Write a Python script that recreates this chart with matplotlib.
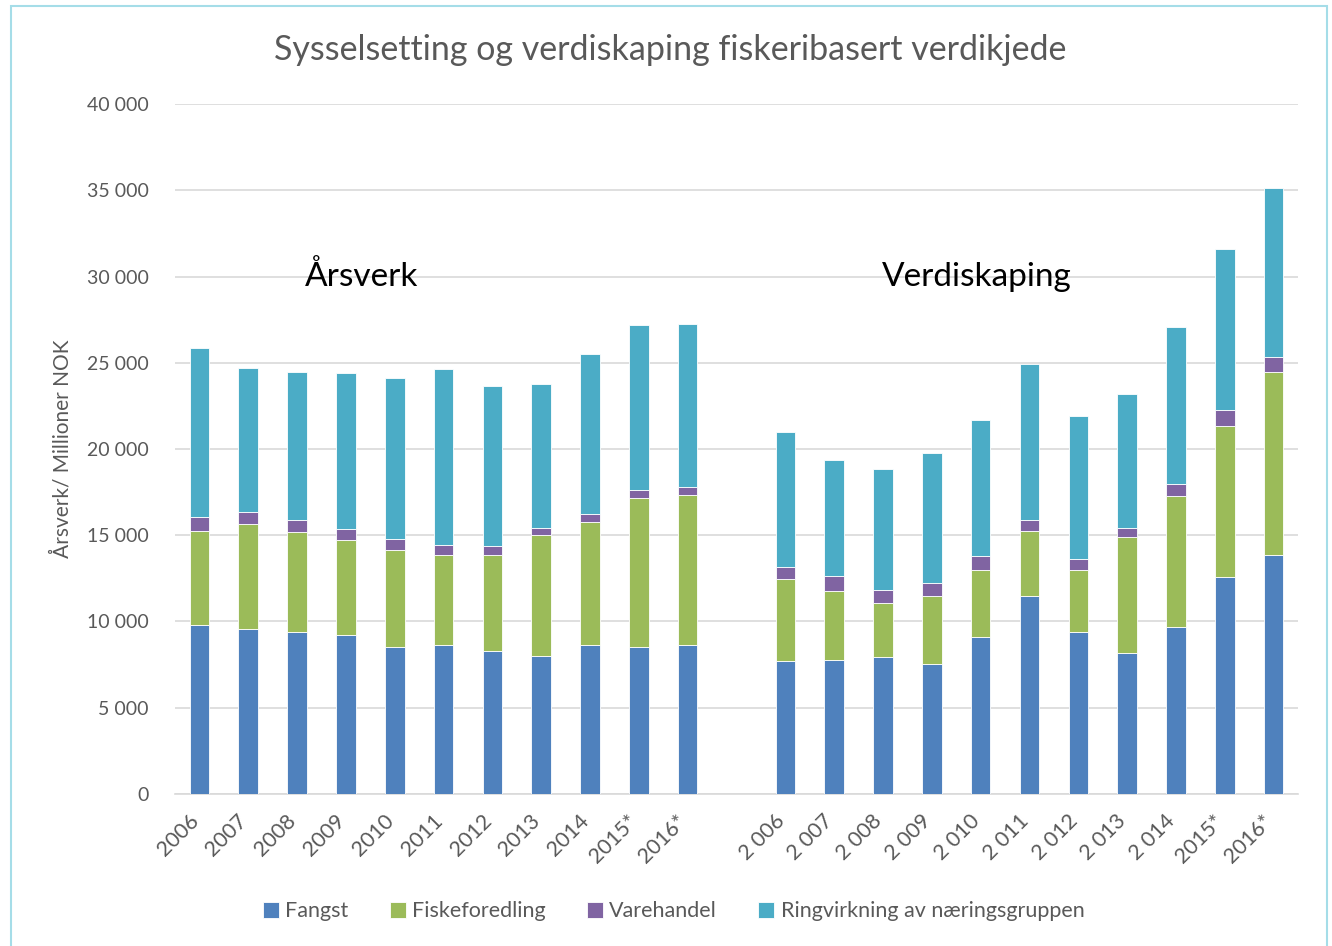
import numpy as np
import matplotlib.pyplot as plt
import matplotlib.transforms as mtransforms
from matplotlib.patches import Rectangle

plt.rcParams['font.family'] = ['Lato', 'DejaVu Sans']

# data
labels_aarsverk = ['2006', '2007', '2008', '2009', '2010', '2011', '2012', '2013', '2014', '2015*', '2016*']
labels_verdi = ['2 006', '2 007', '2 008', '2 009', '2 010', '2 011', '2 012', '2 013', '2 014', '2015*', '2016*']

fangst_a = [9770, 9540, 9420, 9240, 8550, 8660, 8310, 8020, 8660, 8550, 8660]
fiskeforedling_a = [5500, 6140, 5790, 5510, 5600, 5220, 5550, 7000, 7100, 8620, 8690]
varehandel_a = [760, 660, 660, 600, 620, 540, 500, 390, 460, 470, 440]
ringvirkning_a = [9800, 8370, 8590, 9050, 9360, 10210, 9320, 8350, 9270, 9530, 9480]

fangst_v = [7710, 7770, 7940, 7540, 9130, 11450, 9420, 8170, 9710, 12590, 13850]
fiskeforedling_v = [4730, 3970, 3140, 3930, 3830, 3790, 3560, 6750, 7570, 8770, 10600]
varehandel_v = [710, 870, 720, 790, 850, 660, 620, 480, 710, 910, 890]
ringvirkning_v = [7820, 6760, 7040, 7510, 7900, 9020, 8340, 7800, 9100, 9340, 9780]

series_names = ['Fangst', 'Fiskeforedling', 'Varehandel', 'Ringvirkning av næringsgruppen']
colors = ['#4F81BD', '#9BBB59', '#8064A2', '#4BACC6']

# one empty slot between the two groups
labels = labels_aarsverk + [''] + labels_verdi
series = [
    fangst_a + [0] + fangst_v,
    fiskeforedling_a + [0] + fiskeforedling_v,
    varehandel_a + [0] + varehandel_v,
    ringvirkning_a + [0] + ringvirkning_v,
]

fig = plt.figure(figsize=(13.32, 9.46), dpi=100)
ax = fig.add_axes([0.1314, 0.1607, 0.8431, 0.7293])

x = np.arange(len(labels))
bottom = np.zeros(len(labels))
for vals, name, c in zip(series, series_names, colors):
    vals = np.array(vals, dtype=float)
    ax.bar(x, vals, 0.4, bottom=bottom, color=c, label=name,
           edgecolor='white', linewidth=0.6, zorder=3)
    bottom += vals

ax.set_xlim(-0.5, len(labels) - 0.5)
ax.set_ylim(0, 40000)
yt = np.arange(0, 40001, 5000)
ax.set_yticks(yt)
ax.set_yticklabels(['{:,}'.format(v).replace(',', ' ') for v in yt], fontsize=14, color='#595959')
ax.grid(axis='y', color='#D9D9D9', linewidth=1.2, zorder=0)
ax.tick_params(axis='y', length=0, pad=19)
ax.tick_params(axis='x', length=0, pad=12)
ax.set_xticks(x)
ax.set_xticklabels(labels, rotation=45, ha='right', rotation_mode='anchor',
                   fontsize=15.5, color='#595959')
shift = mtransforms.ScaledTranslation(-8 / 72, 0, fig.dpi_scale_trans)
for lbl in ax.get_xticklabels():
    lbl.set_transform(lbl.get_transform() + shift)
for s in ['top', 'right', 'left']:
    ax.spines[s].set_visible(False)
ax.spines['bottom'].set_color('#D9D9D9')
ax.spines['bottom'].set_linewidth(1.2)

ax.set_ylabel('Årsverk/ Millioner NOK', fontsize=15, color='#595959', labelpad=10)

fig.text(0.503, 0.947, 'Sysselsetting og verdiskaping fiskeribasert verdikjede',
         ha='center', va='center', fontsize=24.5, color='#595959')
ax.text(3.33, 30000, 'Årsverk', ha='center', va='center', fontsize=24, color='black')
ax.text(15.93, 30000, 'Verdiskaping', ha='center', va='center', fontsize=24, color='black')

ax.legend(loc='center', bbox_to_anchor=(0.444, -0.17), ncol=4, frameon=False,
          fontsize=15.5, labelcolor='#595959', handlelength=0.75, handleheight=0.75,
          handletextpad=0.3, columnspacing=1.9)

# thin frame around the whole chart
fig.patches.append(Rectangle((0.008, -0.01), 0.988, 1.0037, transform=fig.transFigure,
                             fill=False, edgecolor='#A5DDE8', linewidth=1.5))

plt.savefig('out.png', dpi=100)
